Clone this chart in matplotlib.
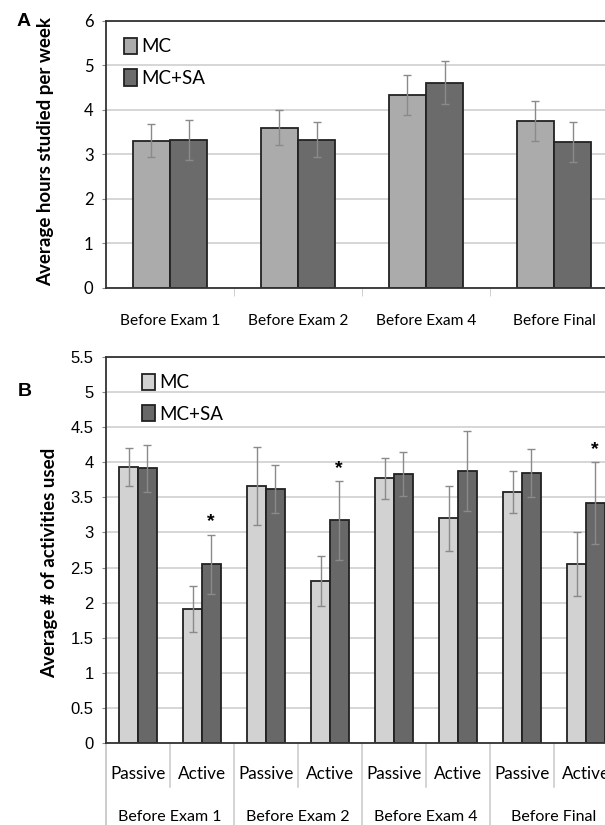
import numpy as np
import matplotlib
matplotlib.use('Agg')
from matplotlib import pyplot as plt
import matplotlib.transforms as mtransforms

plt.rcParams['font.family'] = ['Lato', 'DejaVu Sans']
ARIAL = ['Liberation Sans', 'DejaVu Sans']

# Panel A: hours studied per week
exams = ['Before Exam 1', 'Before Exam 2', 'Before Exam 4', 'Before Final']
hours_mc = [3.31, 3.60, 4.33, 3.75]
hours_mc_err = [0.37, 0.39, 0.45, 0.44]
hours_sa = [3.32, 3.33, 4.61, 3.27]
hours_sa_err = [0.45, 0.40, 0.49, 0.45]

# Panel B: number of study activities used
kinds = ['Passive', 'Active'] * 4
acts_mc = [3.93, 1.91, 3.66, 2.31, 3.77, 3.20, 3.58, 2.55]
acts_mc_err = [0.27, 0.33, 0.55, 0.36, 0.29, 0.46, 0.30, 0.45]
acts_sa = [3.91, 2.55, 3.62, 3.17, 3.83, 3.87, 3.85, 3.42]
acts_sa_err = [0.33, 0.42, 0.34, 0.56, 0.31, 0.57, 0.34, 0.58]
signif = [1, 3, 7]  # starred MC+SA bars

W, H = 605, 825
fig = plt.figure(figsize=(W / 100, H / 100), dpi=100)

def frame(ax):
    for s in ax.spines.values():
        s.set_color('#333333')
        s.set_linewidth(1.3)
    ax.grid(axis='y', color='#d0d0d0', lw=1.2)
    ax.set_axisbelow(True)
    ax.tick_params(axis='y', length=3, color='#888888', pad=6)

err_kw = dict(ecolor='#8a8a8a', elinewidth=1.0, capsize=3, capthick=1.0)
leg_kw = dict(loc='upper left', frameon=False, fontsize=13.5, handlelength=0.7,
              handleheight=0.95, handletextpad=0.2, labelspacing=0.75,
              borderaxespad=0.3)

# ---- A ----
axA = fig.add_axes([106 / W, 1 - 288 / H, 512 / W, 267.3 / H])
frame(axA)
x = np.arange(len(exams))
bw = 0.29
axA.bar(x - bw / 2, hours_mc, bw, yerr=hours_mc_err, color='#ababab',
        edgecolor='#222222', lw=1.3, error_kw=err_kw, label='MC')
axA.bar(x + bw / 2, hours_sa, bw, yerr=hours_sa_err, color='#6b6b6b',
        edgecolor='#222222', lw=1.3, error_kw=err_kw, label='MC+SA')
axA.set_xlim(-0.5, 3.5)
axA.set_ylim(0, 6)
axA.set_yticks(range(7))
axA.set_yticklabels([str(v) for v in range(7)], fontsize=12)
axA.set_xticks(x)
axA.set_xticklabels(exams, fontsize=11.2)
axA.tick_params(axis='x', length=0, pad=19)
axA.set_xticks(np.arange(0.5, 3, 1), minor=True)
axA.tick_params(axis='x', which='minor', length=6, color='#c8c8c8')
axA.set_ylabel('Average hours studied per week', fontsize=13.5, fontweight='bold')
axA.yaxis.set_label_coords(-(106 - 54) / 512, 0.51)
axA.legend(bbox_to_anchor=(0.01, 0.985), **leg_kw)
fig.text(17 / W, 1 - 22 / H, 'A', fontsize=14, fontweight='bold',
         family=ARIAL, ha='left', va='center')

# ---- B ----
axB = fig.add_axes([106 / W, 1 - 743.3 / H, 512 / W, 386.6 / H])
frame(axB)
xb = np.arange(len(kinds))
bw2 = 0.29
axB.bar(xb - bw2 / 2, acts_mc, bw2, yerr=acts_mc_err, color='#d2d2d2',
        edgecolor='#222222', lw=1.3, error_kw=err_kw, label='MC')
axB.bar(xb + bw2 / 2, acts_sa, bw2, yerr=acts_sa_err, color='#686868',
        edgecolor='#222222', lw=1.3, error_kw=err_kw, label='MC+SA')
for i in signif:
    axB.text(xb[i] + bw2 / 2, acts_sa[i] + acts_sa_err[i] + 0.06, '*',
             ha='center', va='bottom', fontsize=14, fontweight='bold',
             family=ARIAL)
axB.set_xlim(-0.5, 7.5)
axB.set_ylim(0, 5.5)
yt = np.arange(0, 5.51, 0.5)
axB.set_yticks(yt)
axB.set_yticklabels(['%g' % v for v in yt], fontsize=12, family=ARIAL)
axB.set_xticks(xb)
axB.set_xticklabels(kinds, fontsize=12.3)
axB.tick_params(axis='x', length=0, pad=16)

trans = mtransforms.blended_transform_factory(axB.transData, axB.transAxes)
short = -(787 - 743.3) / 386.6
long_ = -(830 - 743.3) / 386.6
for b in np.arange(-0.5, 8, 1):
    grp_edge = (b + 0.5) % 2 == 0
    axB.plot([b, b], [0, long_ if grp_edge else short], color='#c8c8c8',
             lw=1.3 if b == -0.5 else 1.1, transform=trans, clip_on=False,
             zorder=0)
for g, name in enumerate(exams):
    axB.text(2 * g + 0.5, -(817 - 743.3) / 386.6, name, transform=trans,
             ha='center', va='center', fontsize=11.5)

axB.set_ylabel('Average # of activities used', fontsize=13.5, fontweight='bold')
axB.yaxis.set_label_coords(-(106 - 58) / 512, 0.466)
axB.legend(bbox_to_anchor=(0.045, 0.99), **leg_kw)
fig.text(18 / W, 1 - 392 / H, 'B', fontsize=14, fontweight='bold',
         family=ARIAL, ha='left', va='center')

fig.savefig('out.png', dpi=100)
